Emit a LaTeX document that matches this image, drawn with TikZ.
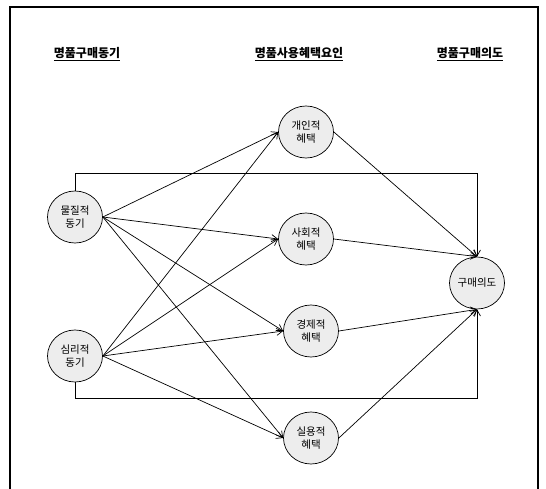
\documentclass[tikz,border=0pt]{standalone}
\usepackage{fontspec}
\setmainfont{Noto Sans CJK KR}
\usetikzlibrary{arrows.meta,shapes.geometric}
\begin{document}
\begin{tikzpicture}[x=1pt,y=-1pt,
  var/.style={ellipse,draw,fill=gray!14,line width=0.7pt,minimum width=55pt,minimum height=52pt,inner sep=0pt,align=center,font=\fontsize{10.5}{13.5}\selectfont},
  hdr/.style={font=\fontsize{12}{14}\selectfont\bfseries},
  conn/.style={line width=0.7pt,-{Straight Barb[length=6pt,width=7pt]}}]
\useasboundingbox (0,0) rectangle (546,489);
\fill[white] (0,0) rectangle (546,489);
\draw[line width=1.8pt] (10,489) -- (10,7) -- (538,7) -- (538,489);
\node[hdr] (h1) at (87,54) {\underline{명품구매동기}};
\node[hdr] (h2) at (299,54) {\underline{명품사용혜택요인}};
\node[hdr] (h3) at (470,54) {\underline{명품구매의도}};
\node[var] (m) at (75,217) {물질적\\동기};
\node[var] (s) at (75,356) {심리적\\동기};
\node[var] (b1) at (306,132) {개인적\\혜택};
\node[var] (b2) at (306,239) {사회적\\혜택};
\node[var] (b3) at (311,331) {경제적\\혜택};
\node[var] (b4) at (311,438) {실용적\\혜택};
\node[var] (g) at (477,283) {구매의도};
\foreach \b in {b1,b2,b3,b4}{
  \draw[conn] (m.east) -- (\b.west);
  \draw[conn] (s.east) -- (\b.west);
}
\draw[conn] (b1.east) -- (g.north);
\draw[conn] (b2.east) -- (g.north);
\draw[conn] (b3.east) -- (g.south);
\draw[conn] (b4.east) -- (g.south);
\draw[conn] (m.north) -- ++(0,-17) -| (g.north);
\draw[conn] (s.south) -- ++(0,16) -| (g.south);
\end{tikzpicture}
\end{document}
